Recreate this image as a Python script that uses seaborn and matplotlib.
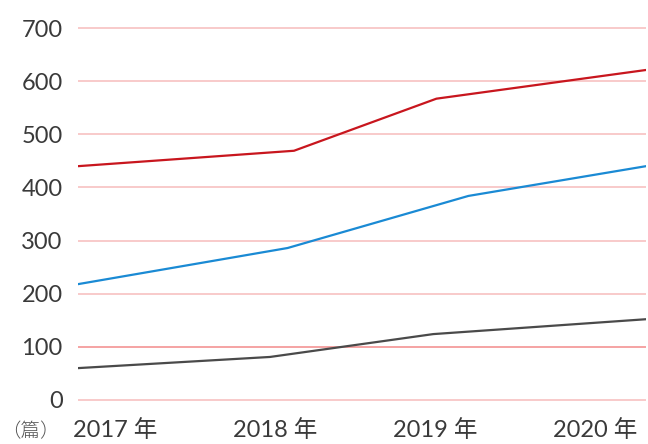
import pandas as pd
import matplotlib
matplotlib.use('Agg')
import matplotlib.pyplot as plt
import seaborn as sns

## data (x = position along the year axis)
years = [2017, 2018, 2019, 2020]
year_labels = ['2017 年', '2018 年', '2019 年', '2020 年']

red_x = [2016.77, 2018.12, 2019.01, 2020.32]
red_y = [440, 469, 567, 621]

blue_x = [2016.77, 2018.08, 2019.21, 2020.32]
blue_y = [218, 286, 384, 440]

gray_x = [2016.77, 2017.97, 2018.99, 2020.32]
gray_y = [60, 81, 124, 152]

y_ticks = [0, 100, 200, 300, 400, 500, 600, 700]
unit_label = '（篇）'

sns.set_theme(style='white')
plt.rcParams['font.family'] = ['Lato', 'Noto Sans CJK JP', 'DejaVu Sans']

fig = plt.figure(figsize=(6.48, 4.44), dpi=100)
ax = fig.add_axes([78 / 648, 1 - 404.25 / 444, (646 - 78) / 648, (404.25 - 23.75) / 444])

## grid lines
for v in y_ticks:
    c = '#f28a8a' if v == 100 else '#f7bcbc'
    ax.axhline(v, color=c, lw=1.1, zorder=0)

## lines
sns.lineplot(x=red_x, y=red_y, color='#c8161e', lw=1.6, ax=ax)
sns.lineplot(x=blue_x, y=blue_y, color='#1a8ad4', lw=1.6, ax=ax)
sns.lineplot(x=gray_x, y=gray_y, color='#4a4a4a', lw=1.6, ax=ax)

ax.set_xlim(2016.77, 2020.32)
ax.set_ylim(-8, 708)
ax.set_yticks(y_ticks)
ax.set_yticklabels([str(v) for v in y_ticks])
ax.set_xticks(years)
ax.set_xticklabels(year_labels)
ax.tick_params(axis='y', length=0, pad=11, labelsize=17, labelcolor='#3a3a3a')
ax.tick_params(axis='x', length=0, pad=11, labelsize=17, labelcolor='#3a3a3a')
sns.despine(ax=ax, left=True, bottom=True)

fig.text(30 / 648, 1 - 432 / 444, unit_label, ha='center', va='center',
         fontsize=14, color='#555555', fontweight='light',
         family=['Noto Sans CJK JP', 'DejaVu Sans'])

fig.savefig('out.png', dpi=100)
